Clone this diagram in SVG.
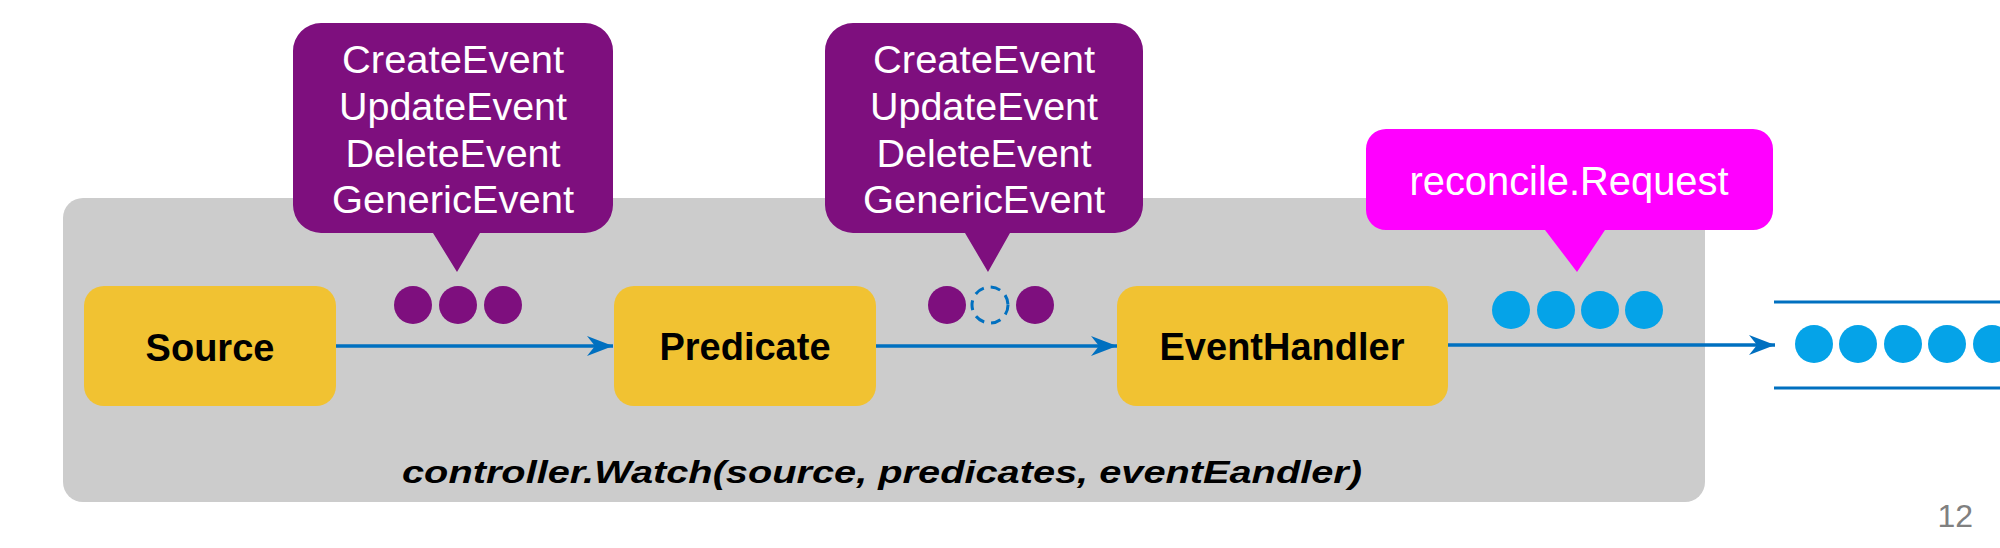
<svg xmlns="http://www.w3.org/2000/svg" width="2000" height="548" viewBox="0 0 2000 548">
<defs>
<style>
.node{fill:#F1C232;}
.nlabel{font-family:"Liberation Sans",Arial,sans-serif;font-weight:bold;font-size:38px;fill:#000;text-anchor:middle;}
.btext{font-family:"Liberation Sans",Arial,sans-serif;font-size:38px;fill:#fff;text-anchor:middle;}
.purple{fill:#7E0F7E;}
.pink{fill:#FF00FF;}
.pdot{fill:#7E0F7E;}
.bdot{fill:#05A3E8;}
.edge{stroke:#0070C0;stroke-width:3.5;fill:none;}
</style>
<marker id="ah" markerUnits="userSpaceOnUse" markerWidth="26" markerHeight="20" refX="26" refY="10" orient="auto">
<path d="M0,0 L26,10 L0,20 L8,10 Z" fill="#0070C0"/>
</marker>
</defs>
<rect width="2000" height="548" fill="#fff"/>
<g id="watch-container">
<rect x="63" y="198" width="1642" height="304" rx="20" fill="#CCCCCC"/>
<text x="882" y="483" font-family="'Liberation Sans',Arial,sans-serif" font-weight="bold" font-style="italic" font-size="32" fill="#000" text-anchor="middle" textLength="960" lengthAdjust="spacingAndGlyphs">controller.Watch(source, predicates, eventEandler)</text>
</g>
<g id="connectors">
<line class="edge" x1="336" y1="346" x2="613" y2="346" marker-end="url(#ah)"/>
<line class="edge" x1="876" y1="346" x2="1117" y2="346" marker-end="url(#ah)"/>
<line class="edge" x1="1448" y1="345" x2="1775" y2="345" marker-end="url(#ah)"/>
</g>
<g id="source">
<rect class="node" x="84" y="286" width="252" height="120" rx="20"/>
<text class="nlabel" x="210" y="361">Source</text>
</g>
<g id="predicate">
<rect class="node" x="614" y="286" width="262" height="120" rx="20"/>
<text class="nlabel" x="745" y="360">Predicate</text>
</g>
<g id="eventhandler">
<rect class="node" x="1117" y="286" width="331" height="120" rx="20"/>
<text class="nlabel" x="1282" y="360">EventHandler</text>
</g>
<g id="events-bubble-1">
<path class="purple" d="M321,23 H585 A28,28 0 0 1 613,51 V205 A28,28 0 0 1 585,233 H480 L457,272 L433,233 H321 A28,28 0 0 1 293,205 V51 A28,28 0 0 1 321,23 Z"/>
<text class="btext" x="453" y="73" textLength="222" lengthAdjust="spacingAndGlyphs">CreateEvent</text>
<text class="btext" x="453" y="120" textLength="228" lengthAdjust="spacingAndGlyphs">UpdateEvent</text>
<text class="btext" x="453" y="167" textLength="215" lengthAdjust="spacingAndGlyphs">DeleteEvent</text>
<text class="btext" x="453" y="213" textLength="242" lengthAdjust="spacingAndGlyphs">GenericEvent</text>
</g>
<g id="events-dots-1">
<circle class="pdot" cx="413" cy="305" r="19"/>
<circle class="pdot" cx="458" cy="305" r="19"/>
<circle class="pdot" cx="503" cy="305" r="19"/>
</g>
<g id="events-bubble-2">
<path class="purple" d="M853,23 H1115 A28,28 0 0 1 1143,51 V205 A28,28 0 0 1 1115,233 H1010 L988,272 L965,233 H853 A28,28 0 0 1 825,205 V51 A28,28 0 0 1 853,23 Z"/>
<text class="btext" x="984" y="73" textLength="222" lengthAdjust="spacingAndGlyphs">CreateEvent</text>
<text class="btext" x="984" y="120" textLength="228" lengthAdjust="spacingAndGlyphs">UpdateEvent</text>
<text class="btext" x="984" y="167" textLength="215" lengthAdjust="spacingAndGlyphs">DeleteEvent</text>
<text class="btext" x="984" y="213" textLength="242" lengthAdjust="spacingAndGlyphs">GenericEvent</text>
</g>
<g id="events-dots-2">
<circle class="pdot" cx="947" cy="305" r="19"/>
<circle cx="990" cy="305" r="18" fill="none" stroke="#0070C0" stroke-width="3" stroke-dasharray="10 7"/>
<circle class="pdot" cx="1035" cy="305" r="19"/>
</g>
<g id="request-bubble">
<path class="pink" d="M1386,129 H1753 A20,20 0 0 1 1773,149 V210 A20,20 0 0 1 1753,230 H1605 L1577,272 L1545,230 H1386 A20,20 0 0 1 1366,210 V149 A20,20 0 0 1 1386,129 Z"/>
<text class="btext" x="1569" y="195" font-size="40" textLength="319" lengthAdjust="spacingAndGlyphs" style="font-size:40px">reconcile.Request</text>
</g>
<g id="request-dots">
<circle class="bdot" cx="1511" cy="310" r="19"/>
<circle class="bdot" cx="1556" cy="310" r="19"/>
<circle class="bdot" cx="1600" cy="310" r="19"/>
<circle class="bdot" cx="1644" cy="310" r="19"/>
</g>
<g id="queue">
<line x1="1774" y1="302" x2="2000" y2="302" stroke="#0070C0" stroke-width="3"/>
<line x1="1774" y1="388" x2="2000" y2="388" stroke="#0070C0" stroke-width="3"/>
<circle class="bdot" cx="1814" cy="344" r="19"/>
<circle class="bdot" cx="1858" cy="344" r="19"/>
<circle class="bdot" cx="1903" cy="344" r="19"/>
<circle class="bdot" cx="1947" cy="344" r="19"/>
<circle class="bdot" cx="1992" cy="344" r="19"/>
</g>
<g id="page-number">
<text x="1973" y="527" font-family="'Liberation Sans',Arial,sans-serif" font-size="32" fill="#808080" text-anchor="end">12</text>
</g>
</svg>
